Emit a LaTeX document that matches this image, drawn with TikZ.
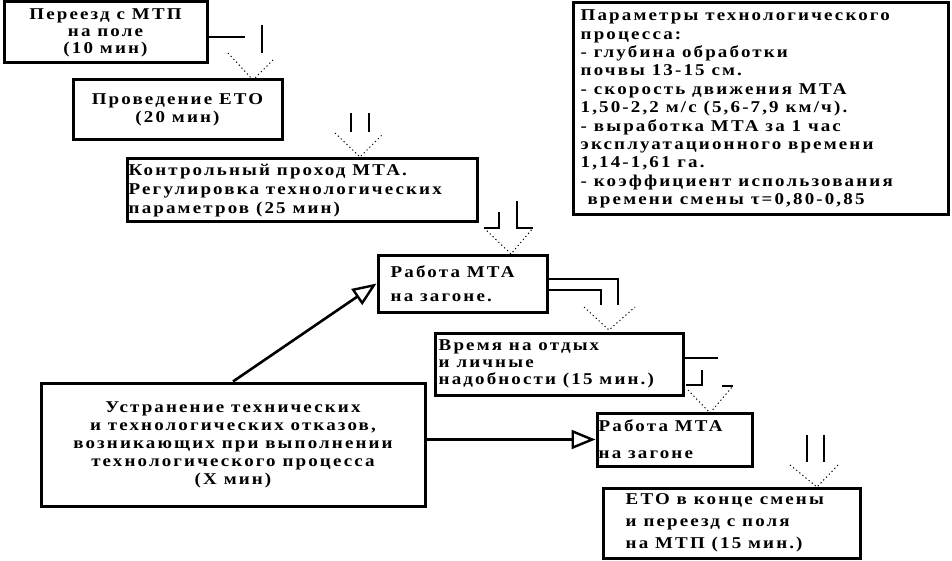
\documentclass[tikz,border=0pt]{standalone}
\usepackage{fontspec}
\setmainfont{Liberation Serif}[BoldFeatures={FakeStretch=1.15,LetterSpace=13}]
\usetikzlibrary{arrows.meta}
\begin{document}
\begin{tikzpicture}[x=1pt,y=-1pt,
  box/.style={draw, line width=3pt, inner sep=0pt, rectangle},
  txt/.style={inner sep=0pt, font=\bfseries\fontsize{16.5}{#1}\selectfont},
  shaft/.style={line width=1.2pt},
  head/.style={line width=1pt, dash pattern=on 1.2pt off 2.8pt},
  conn/.style={line width=2.6pt, -{Triangle[open, length=24pt, width=19pt, line width=2.4pt]}}]
\useasboundingbox (0,0) rectangle (952,561);
\fill[white] (0,0) rectangle (952,561);

% boxes
\node[box, minimum width=203, minimum height=61] (b1) at (105.5,32.5) {};
\node[txt=17, align=center] (b1t) at (b1.center) {Переезд с МТП\\на поле\\(10 мин)};

\node[box, minimum width=209, minimum height=60] (b2) at (177.5,110) {};
\node[txt=18, align=center] (b2t) at (b2.center) {Проведение ЕТО\\(20 мин)};

\node[box, minimum width=350, minimum height=63] (b3) at (302,190.5) {};
\node[txt=19, align=left, anchor=west] (b3t) at ([xshift=3pt]b3.west) {Контрольный проход МТА.\\Регулировка технологических\\параметров (25 мин)};

\node[box, minimum width=375, minimum height=212] (p) at (760.5,109) {};
\node[txt=18.4, align=left, anchor=west] (pt) at ([xshift=9pt]p.west) {Параметры технологического\\процесса:\\- глубина обработки\\почвы 13-15 см.\\- скорость движения МТА\\1,50-2,2 м/с (5,6-7,9 км/ч).\\- выработка МТА за 1 час\\эксплуатационного времени\\1,14-1,61 га.\\- коэффициент использования\\\ времени смены τ=0,80-0,85};

\node[box, minimum width=169, minimum height=57] (r1) at (462.5,283.5) {};
\node[txt=24, align=left, anchor=west] (r1t) at ([xshift=14pt]r1.west) {Работа МТА\\на загоне.};

\node[box, minimum width=248, minimum height=62] (v) at (559,364) {};
\node[txt=17, align=left, anchor=west] (vt) at ([xshift=5pt]v.west) {Время на отдых\\и личные\\надобности (15 мин.)};

\node[box, minimum width=384, minimum height=123] (u) at (233,444.5) {};
\node[txt=18, align=center] (ut) at (u.center) {Устранение технических\\и технологических отказов,\\возникающих при выполнении\\технологического процесса\\(Х мин)};

\node[box, minimum width=155, minimum height=53] (r2) at (674.5,439.5) {};
\node[txt=27, align=left, anchor=west] (r2t) at ([xshift=3pt]r2.west) {Работа МТА\\на загоне};

\node[box, minimum width=257, minimum height=70] (e) at (731.5,523) {};
\node[txt=22, align=left, anchor=west] (et) at ([xshift=24pt]e.west) {ЕТО в конце смены\\и переезд с поля\\на МТП (15 мин.)};

% connectors
\draw[conn] (u.north) -- (r1.west);
\draw[conn] (u.east |- r2.west) -- (r2.west);

% block arrows
\draw[shaft] (207,37) -- (245,37);
\draw[shaft] (262,25) -- (262,53);
\draw[head] (228,53) -- (253,80) -- (275,58);

\draw[shaft] (351,113) -- (351,132);
\draw[shaft] (369,113) -- (369,132);
\draw[head] (335,133) -- (360,157) -- (382,135);

\draw[shaft] (499,212) -- (499,228) -- (484,228);
\draw[shaft] (517,201) -- (517,228) -- (533,228);
\draw[head] (484,228) -- (511,254) -- (533,228);

\draw[shaft] (547,279) -- (618,279) -- (618,305);
\draw[shaft] (547,290) -- (601,290) -- (601,305);
\draw[head] (584,307) -- (609,330) -- (635,307);

\draw[shaft] (683,358) -- (718,358);
\draw[shaft] (686,385) -- (702,385) -- (702,370);
\draw[shaft] (722,386) -- (733,386);
\draw[head] (688,390) -- (710,413) -- (732,387);

\draw[shaft] (807,435) -- (807,462);
\draw[shaft] (824,435) -- (824,462);
\draw[head] (790,465) -- (817,487) -- (838,465);
\end{tikzpicture}
\end{document}
